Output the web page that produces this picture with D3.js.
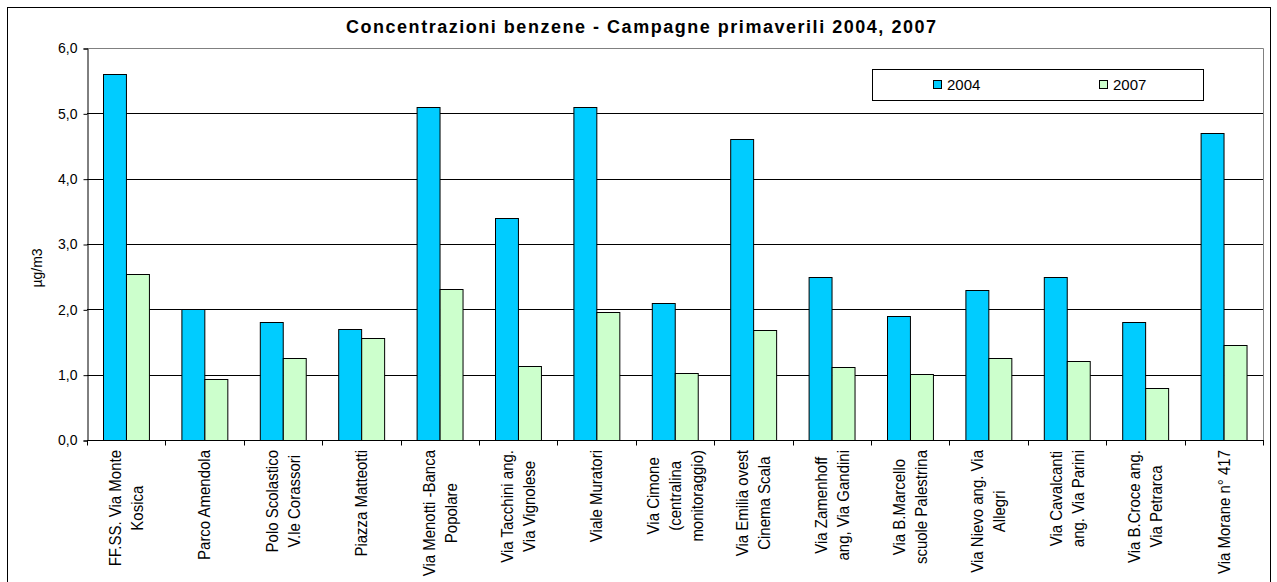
<!DOCTYPE html>
<html><head><meta charset="utf-8">
<script src="https://cdn.jsdelivr.net/npm/d3@7"></script>
<style>body{margin:0;background:#fff}svg{display:block;font-family:"Liberation Sans",Arial,sans-serif}</style>
</head><body><svg id="c" width="1277" height="582"></svg>
<script>
const categories = ["FF.SS. Via Monte\nKosica","Parco Amendola","Polo Scolastico\nV.le Corassori","Piazza Matteotti","Via Menotti -Banca\nPopolare","Via Tacchini ang.\nVia Vignolese","Viale Muratori","Via Cimone\n(centralina\nmonitoraggio)","Via Emilia ovest\nCinema Scala","Via Zamenhoff\nang, Via Gandini","Via B.Marcello\nscuole Palestrina","Via Nievo ang. Via\nAllegri","Via Cavalcanti\nang. Via Parini","Via B.Croce ang.\nVia Petrarca","Via Morane n° 417"];
const series = ["2004","2007"];
const values2004 = [5.6,2.0,1.8,1.7,5.1,3.4,5.1,2.1,4.6,2.5,1.9,2.3,2.5,1.8,4.7];
const values2007 = [2.54,0.94,1.26,1.56,2.31,1.14,1.96,1.03,1.69,1.11,1.01,1.26,1.21,0.79,1.45];
const yTicks = [0,1,2,3,4,5,6];
const colors = ["#00CCFF","#CCFFCC"];
const title = "Concentrazioni benzene - Campagne primaverili 2004, 2007";
const yLabel = "µg/m3";

const svg = d3.select("#c");
const L=87, R=1263, T=48, B=440;

svg.append("rect").attr("x",7.5).attr("y",7.5).attr("width",1263).attr("height",620)
  .attr("fill","#fff").attr("stroke","#000");

const x0 = d3.scaleBand().domain(categories).range([L,R]).padding(0);
const x1 = d3.scaleBand().domain(series).range([x0.bandwidth()*0.2075, x0.bandwidth()*0.7925]).padding(0);
const y = d3.scaleLinear().domain([0,6]).range([B,T]);

svg.append("g").selectAll("line").data(yTicks.filter(d=>d>0 && d<6)).join("line")
  .attr("x1",L).attr("x2",R).attr("y1",d=>Math.round(y(d))+0.5).attr("y2",d=>Math.round(y(d))+0.5)
  .attr("stroke","#000");
svg.append("path").attr("d",`M${L},${T+0.5}H${R+0.5}V${B}`).attr("fill","none").attr("stroke","#808080");

const data = categories.map((c,i)=>({c, v:[values2004[i],values2007[i]]}));
const g = svg.append("g").selectAll("g").data(data).join("g").attr("transform",d=>`translate(${x0(d.c)},0)`);
g.selectAll("rect").data(d=>d.v.map((v,j)=>({s:series[j],v,j}))).join("rect")
  .attr("x",d=>Math.round(x1(d.s))+0.5).attr("width",x1.bandwidth())
  .attr("y",d=>Math.round(y(d.v))+0.5).attr("height",d=>B-Math.round(y(d.v)))
  .attr("fill",d=>colors[d.j]).attr("stroke","#000").attr("stroke-width",1);

const ya = svg.append("g").attr("transform",`translate(${L+0.5},0.5)`)
  .call(d3.axisLeft(y).tickValues(yTicks).tickSize(4).tickPadding(6).tickFormat(d=>d3.format(".1f")(d).replace(".",",")));
ya.select(".domain").attr("stroke","#000");
ya.selectAll("text").attr("font-size",14).attr("font-family","Liberation Sans, Arial").attr("fill","#000");

const xa = svg.append("g").attr("transform",`translate(0,${B+0.5})`);
xa.append("line").attr("x1",L).attr("x2",R+1).attr("stroke","#000");
const bounds = d3.range(categories.length+1).map(i=>L+i*x0.step());
xa.selectAll("line.t").data(bounds).join("line").attr("class","t")
  .attr("x1",d=>Math.round(d)+0.5).attr("x2",d=>Math.round(d)+0.5).attr("y1",0).attr("y2",5).attr("stroke","#000");

const lineSp = 22, fs = 15;
categories.forEach(c=>{
  const lines = c.split("\n");
  const cx = x0(c)+x0.bandwidth()/2;
  const lg = svg.append("g").attr("transform",`translate(${cx},0) rotate(-90) scale(1,1.1)`);
  const texts = lines.map((ln,i)=>lg.append("text").text(ln).attr("font-size",fs).attr("text-anchor","middle")
      .attr("y",((i-(lines.length-1)/2)*lineSp)/1.1 + fs*0.35).attr("fill","#000"));
  const maxLen = d3.max(texts, t=>t.node().getComputedTextLength());
  texts.forEach(t=>t.attr("x",-(450+maxLen/2)));
});

svg.append("text").attr("transform","translate(42,268) rotate(-90)").attr("text-anchor","middle")
  .attr("font-size",14).text(yLabel);

svg.append("text").attr("x",641).attr("y",33).attr("text-anchor","middle").attr("font-size",18)
  .attr("font-weight","bold").attr("textLength",590).attr("lengthAdjust","spacing").text(title);

const lgX=872, lgY=69;
svg.append("rect").attr("x",lgX+0.5).attr("y",lgY+0.5).attr("width",331).attr("height",31).attr("fill","#fff").attr("stroke","#000");
const legX = [933,1099];
series.forEach((s,i)=>{
  svg.append("rect").attr("x",legX[i]+0.5).attr("y",80.5).attr("width",8).attr("height",8).attr("fill",colors[i]).attr("stroke","#000");
  svg.append("text").attr("x",legX[i]+14).attr("y",89.5).attr("font-size",15).text(s);
});
</script></body></html>
